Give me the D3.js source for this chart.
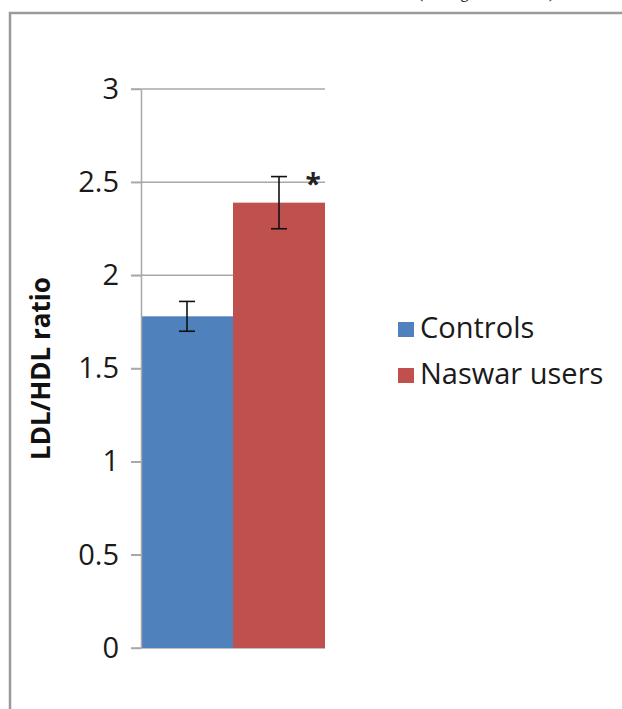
<!DOCTYPE html>
<html>
<head>
<meta charset="utf-8">
<script src="https://cdn.jsdelivr.net/npm/d3@7"></script>
<style>
  html, body { margin: 0; padding: 0; background: #fff; }
  svg { display: block; }
</style>
</head>
<body>
<svg id="chart" width="622" height="709"></svg>
<script>
// chart values
const groups = ["Controls", "Naswar users"];
const means = [1.78, 2.39];
const errors = [0.08, 0.14];
const yTicks = [0, 0.5, 1, 1.5, 2, 2.5, 3];
const tickLabels = ["0", "0.5", "1", "1.5", "2", "2.5", "3"];
const colors = ["#4F81BD", "#C0504D"];
const yTitle = "LDL/HDL ratio";
const signif = ["", "*"];

const svg = d3.select("#chart");
const font = "'Open Sans', 'DejaVu Sans', sans-serif";

// cut-off caption line from the page above the figure (only descenders show)
svg.append("text")
  .attr("x", 418).attr("y", -2)
  .attr("font-family", "'Liberation Serif', serif")
  .attr("font-size", 16)
  .attr("textLength", 136)
  .attr("fill", "#000")
  .text("(Figure 4)");

// outer frame
svg.append("rect")
  .attr("x", 10).attr("y", 13)
  .attr("width", 700).attr("height", 800)
  .attr("fill", "none")
  .attr("stroke", "#9a9a9a")
  .attr("stroke-width", 2.5);

const plot = {left: 141, right: 325, top: 89, bottom: 648};

const y = d3.scaleLinear().domain([0, 3]).range([plot.bottom, plot.top]);
const x = d3.scaleBand().domain(groups).range([plot.left, plot.right]).padding(0);

// gridlines
svg.append("g")
  .selectAll("line")
  .data(yTicks)
  .join("line")
  .attr("x1", plot.left - 10)
  .attr("x2", plot.right)
  .attr("y1", d => y(d))
  .attr("y2", d => y(d))
  .attr("stroke", "#a8a8a8")
  .attr("stroke-width", 1.5);

// bars
const rows = groups.map((g, i) => ({g, mean: means[i], err: errors[i], color: colors[i], sig: signif[i]}));

svg.append("g")
  .selectAll("rect")
  .data(rows)
  .join("rect")
  .attr("x", d => x(d.g))
  .attr("y", d => y(d.mean))
  .attr("width", x.bandwidth())
  .attr("height", d => y(0) - y(d.mean))
  .attr("fill", d => d.color);

// y axis
const axis = svg.append("g")
  .attr("transform", `translate(${plot.left},0)`)
  .call(d3.axisLeft(y)
    .tickValues(yTicks)
    .tickFormat((d, i) => tickLabels[i])
    .tickSizeInner(10)
    .tickSizeOuter(0)
    .tickPadding(12));
axis.select(".domain").attr("stroke", "#a8a8a8").attr("stroke-width", 1.5);
axis.selectAll(".tick line").attr("stroke", "#a8a8a8").attr("stroke-width", 1.5);
axis.selectAll(".tick text")
  .attr("font-family", font)
  .attr("font-size", 29)
  .attr("fill", "#1a1a1a");

// error bars
const eb = svg.append("g")
  .selectAll("g")
  .data(rows)
  .join("g")
  .attr("stroke", "#111")
  .attr("stroke-width", 1.6);
eb.append("line")
  .attr("x1", d => x(d.g) + x.bandwidth() / 2)
  .attr("x2", d => x(d.g) + x.bandwidth() / 2)
  .attr("y1", d => y(d.mean + d.err))
  .attr("y2", d => y(d.mean - d.err));
eb.append("line")
  .attr("x1", d => x(d.g) + x.bandwidth() / 2 - 8)
  .attr("x2", d => x(d.g) + x.bandwidth() / 2 + 8)
  .attr("y1", d => y(d.mean + d.err))
  .attr("y2", d => y(d.mean + d.err));
eb.append("line")
  .attr("x1", d => x(d.g) + x.bandwidth() / 2 - 8)
  .attr("x2", d => x(d.g) + x.bandwidth() / 2 + 8)
  .attr("y1", d => y(d.mean - d.err))
  .attr("y2", d => y(d.mean - d.err));

// significance mark
svg.append("g")
  .selectAll("text")
  .data(rows.filter(d => d.sig))
  .join("text")
  .attr("x", d => x(d.g) + x.bandwidth() * 0.87)
  .attr("y", d => y(d.mean + d.err) + 17)
  .attr("text-anchor", "middle")
  .attr("font-family", font)
  .attr("font-weight", "bold")
  .attr("font-size", 28)
  .attr("fill", "#222")
  .text(d => d.sig);

// y title
svg.append("text")
  .attr("transform", `translate(50,${(plot.top + plot.bottom) / 2}) rotate(-90)`)
  .attr("text-anchor", "middle")
  .attr("font-family", font)
  .attr("font-weight", "bold")
  .attr("font-size", 26)
  .attr("fill", "#111")
  .text(yTitle);

// legend
const legend = svg.append("g")
  .selectAll("g")
  .data(rows)
  .join("g")
  .attr("transform", (d, i) => `translate(398,${322 + i * 46})`);
legend.append("rect")
  .attr("width", 16).attr("height", 15)
  .attr("fill", d => d.color);
legend.append("text")
  .attr("x", 22).attr("y", 16)
  .attr("font-family", font)
  .attr("font-size", 29)
  .attr("fill", "#1a1a1a")
  .text(d => d.g);
</script>
</body>
</html>
